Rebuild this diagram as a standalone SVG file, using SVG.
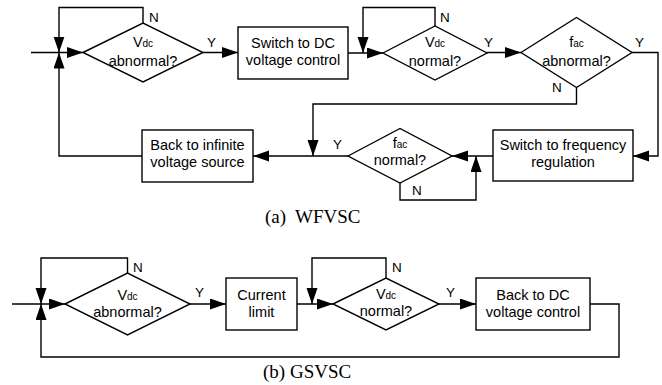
<svg xmlns="http://www.w3.org/2000/svg" width="662" height="385" viewBox="0 0 662 385">
  <style>
    .shape { fill: #fff; stroke: #000; stroke-width: 1.4; }
    .wire { fill: none; stroke: #000; stroke-width: 1.4; }
    .txt { font-family: "Liberation Sans", Arial, sans-serif; font-size: 14.5px; fill: #000; text-anchor: middle; }
    .sub { font-size: 10px; }
    .lbl { font-family: "Liberation Sans", Arial, sans-serif; font-size: 13.5px; fill: #000; }
    .cap { font-family: "Liberation Serif", "Times New Roman", serif; font-size: 19px; fill: #000; }
  </style>
  <defs>
    <marker id="arrow" markerUnits="userSpaceOnUse" markerWidth="17" markerHeight="12" refX="16" refY="5.5" orient="auto">
      <path d="M0,0 L16,5.5 L0,11 z" fill="#000"/>
    </marker>
  </defs>

  <rect width="662" height="385" fill="#fff"/>

  <!-- connectors -->
  <g id="connectors" class="wire">
    <!-- (a) WFVSC -->
    <path d="M31,52.5 H83" marker-end="url(#arrow)"/>
    <path d="M143,23 V7.5 H59 V52.5" marker-end="url(#arrow)"/>
    <path d="M142,156 H59 V52.5" marker-end="url(#arrow)"/>
    <path d="M203,52.5 H238" marker-end="url(#arrow)"/>
    <path d="M348,53 H383" marker-end="url(#arrow)"/>
    <path d="M435,26 V7.5 H363 V53" marker-end="url(#arrow)"/>
    <path d="M487,52.5 H521" marker-end="url(#arrow)"/>
    <path d="M632,52.5 H658 V156 H633" marker-end="url(#arrow)"/>
    <path d="M576.5,87.5 V104 H313 V156" marker-end="url(#arrow)"/>
    <path d="M493,156 H452" marker-end="url(#arrow)"/>
    <path d="M400,183 V200 H476 V156" marker-end="url(#arrow)"/>
    <path d="M348,156 H253" marker-end="url(#arrow)"/>
    <!-- (b) GSVSC -->
    <path d="M12,304 H65" marker-end="url(#arrow)"/>
    <path d="M127.5,273 V258 H41 V304" marker-end="url(#arrow)"/>
    <path d="M590,304 H619 V357 H41 V304" marker-end="url(#arrow)"/>
    <path d="M190,304 H226" marker-end="url(#arrow)"/>
    <path d="M297,304 H333" marker-end="url(#arrow)"/>
    <path d="M386,278 V258 H312 V304" marker-end="url(#arrow)"/>
    <path d="M439,304 H476" marker-end="url(#arrow)"/>
  </g>

  <!-- branch labels -->
  <g id="branch-labels" class="lbl">
    <text x="149" y="22">N</text>
    <text x="207" y="46.5">Y</text>
    <text x="440" y="22">N</text>
    <text x="484" y="46.5">Y</text>
    <text x="635" y="46.5">Y</text>
    <text x="552" y="92">N</text>
    <text x="333" y="149">Y</text>
    <text x="412" y="195">N</text>
    <text x="133" y="272">N</text>
    <text x="195" y="297">Y</text>
    <text x="392" y="272">N</text>
    <text x="446" y="297">Y</text>
  </g>

  <!-- (a) WFVSC nodes -->
  <g id="a-vdc-abnormal">
    <polygon class="shape" points="83,52.5 143,23 203,52.5 143,82"/>
    <text class="txt" x="143" y="47">V<tspan class="sub">dc</tspan></text>
    <text class="txt" x="143" y="65.5">abnormal?</text>
  </g>
  <g id="a-switch-dc">
    <rect class="shape" x="238" y="27" width="110" height="52"/>
    <text class="txt" x="293" y="47.5">Switch to DC</text>
    <text class="txt" x="293" y="64.5">voltage control</text>
  </g>
  <g id="a-vdc-normal">
    <polygon class="shape" points="383,53 435,26 487,53 435,80"/>
    <text class="txt" x="435" y="47">V<tspan class="sub">dc</tspan></text>
    <text class="txt" x="435" y="65.5">normal?</text>
  </g>
  <g id="a-fac-abnormal">
    <polygon class="shape" points="521,52.5 576.5,17.5 632,52.5 576.5,87.5"/>
    <text class="txt" x="576.5" y="47">f<tspan class="sub">ac</tspan></text>
    <text class="txt" x="576.5" y="65.5">abnormal?</text>
  </g>
  <g id="a-switch-freq">
    <rect class="shape" x="493" y="130" width="140" height="51"/>
    <text class="txt" x="563" y="150">Switch to frequency</text>
    <text class="txt" x="563" y="167">regulation</text>
  </g>
  <g id="a-fac-normal">
    <polygon class="shape" points="348,156 400,128.5 452,156 400,183"/>
    <text class="txt" x="400" y="147.5">f<tspan class="sub">ac</tspan></text>
    <text class="txt" x="400" y="164.5">normal?</text>
  </g>
  <g id="a-back-infinite">
    <rect class="shape" x="142" y="130" width="111" height="52"/>
    <text class="txt" x="197.5" y="150">Back to infinite</text>
    <text class="txt" x="197.5" y="167">voltage source</text>
  </g>

  <!-- (b) GSVSC nodes -->
  <g id="b-vdc-abnormal">
    <polygon class="shape" points="65,304 127.5,273 190,304 127.5,335"/>
    <text class="txt" x="127.5" y="300">V<tspan class="sub">dc</tspan></text>
    <text class="txt" x="127.5" y="317">abnormal?</text>
  </g>
  <g id="b-current-limit">
    <rect class="shape" x="226" y="278" width="71" height="52"/>
    <text class="txt" x="261.5" y="299.5">Current</text>
    <text class="txt" x="261.5" y="317">limit</text>
  </g>
  <g id="b-vdc-normal">
    <polygon class="shape" points="333,304 386,278 439,304 386,330"/>
    <text class="txt" x="386" y="298.5">V<tspan class="sub">dc</tspan></text>
    <text class="txt" x="386" y="315.5">normal?</text>
  </g>
  <g id="b-back-dc">
    <rect class="shape" x="476" y="278" width="114" height="52"/>
    <text class="txt" x="533" y="300">Back to DC</text>
    <text class="txt" x="533" y="317">voltage control</text>
  </g>

  <!-- captions -->
  <text class="cap" y="223"><tspan x="265">(a)</tspan><tspan x="295">WFVSC</tspan></text>
  <text class="cap" x="263" y="378">(b) GSVSC</text>
</svg>
